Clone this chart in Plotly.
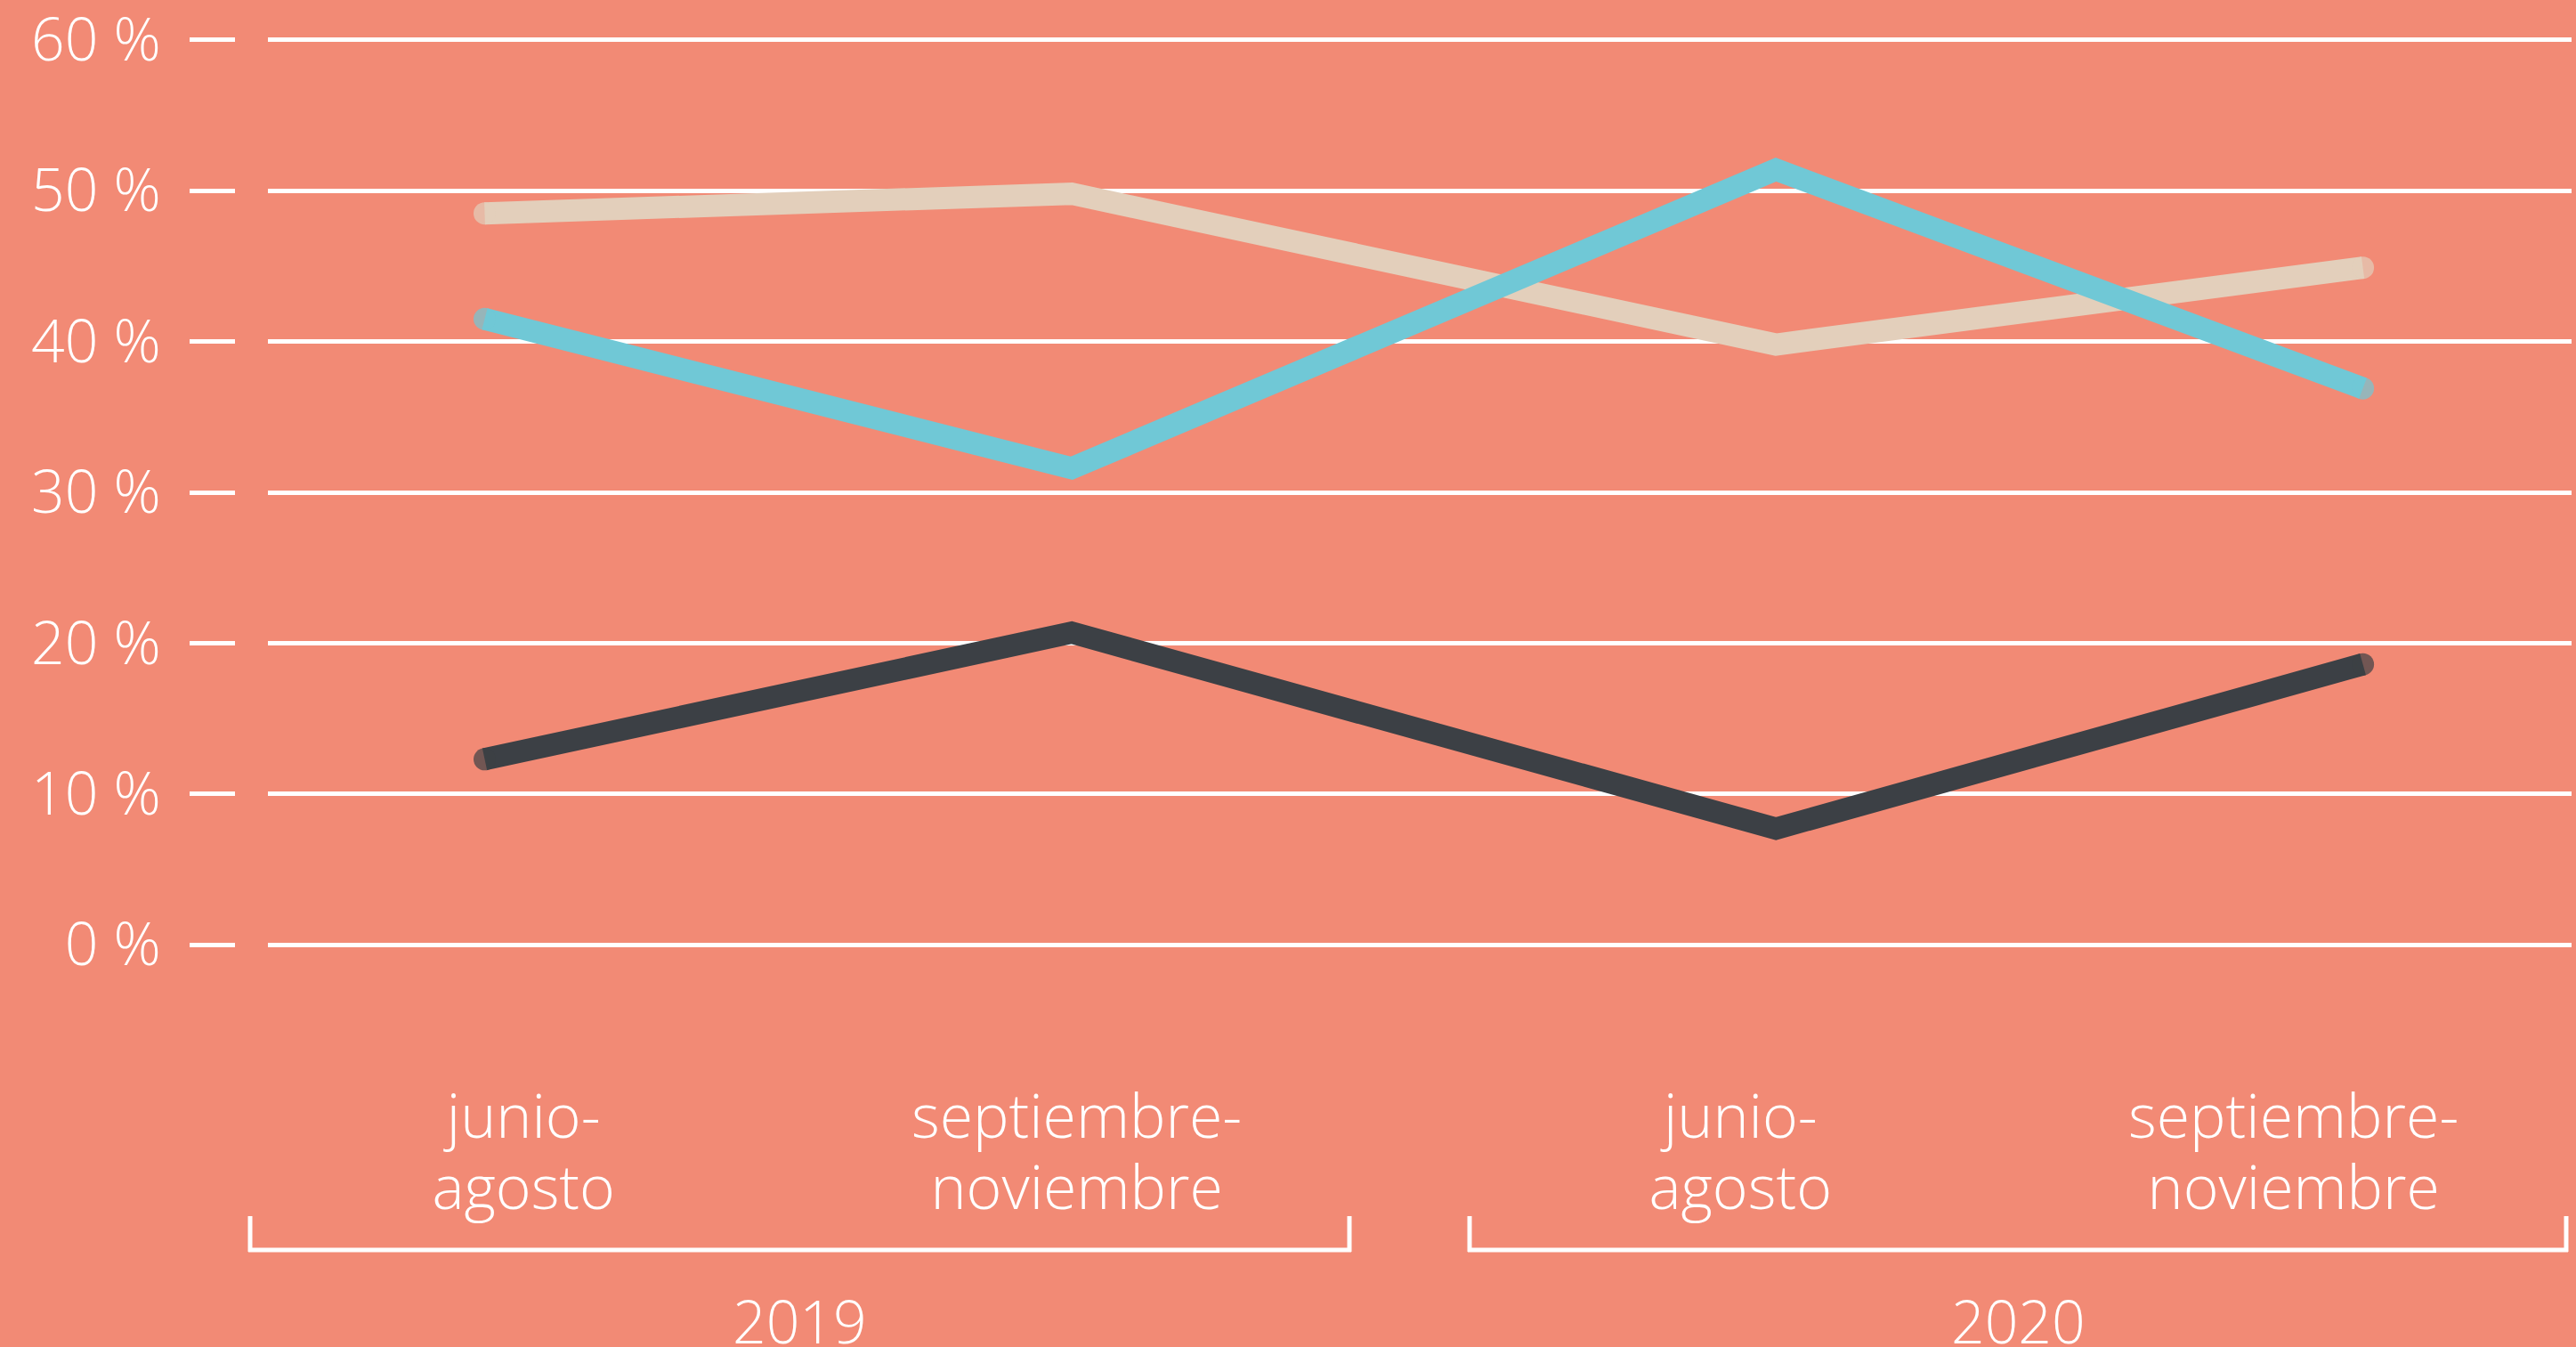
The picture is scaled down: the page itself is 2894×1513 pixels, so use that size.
import plotly.graph_objects as go

# ---- data ----
period_line1 = ["junio-", "septiembre-", "junio-", "septiembre-"]
period_line2 = ["agosto", "noviembre", "agosto", "noviembre"]
period_pos = [0, 1, 2.2, 3.2]          # category slots (gap between years)
years = ["2019", "2020"]

serie_beige = [48.5, 49.8, 39.8, 44.9]
serie_dark = [12.3, 20.7, 7.7, 18.6]
serie_cyan = [41.5, 31.6, 51.4, 36.9]

y_ticks = [0, 10, 20, 30, 40, 50, 60]
y_ticktext = [f"{v} %" for v in y_ticks]

# ---- style ----
W, H = 2894, 1513
BG = "#F28A75"
C_BEIGE = "#E3CFBB"
C_DARK = "#3C4045"
C_CYAN = "#70C8D6"
FONT = "Open Sans"
FS_Y = 66
FS_X = 68
FS_YEAR = 66
LW = 25

ML, MR, MT, MB = 301, 5, 11, 401
PW = W - ML - MR
PH = H - MT - MB


def slot_range(first_px, unit_px):
    return [(ML - first_px) / unit_px, (ML + PW - first_px) / unit_px]


XRANGE_DATA = slot_range(544.5, 659.4)   # lines
XRANGE_LABEL = slot_range(588.2, 621.4)  # period labels


def px_x(px):
    return (px - ML) / PW


def px_y(py):
    return (H - MB - py) / PH


fig = go.Figure()
for vals, col in [(serie_beige, C_BEIGE), (serie_dark, C_DARK), (serie_cyan, C_CYAN)]:
    n = len(vals)
    fig.add_trace(go.Scatter(
        x=period_pos, y=vals, mode="lines+markers",
        line=dict(color=col, width=LW),
        marker=dict(color=col, size=[LW if i in (0, n - 1) else 0 for i in range(n)],
                    line=dict(width=0)),
        hoverinfo="skip", showlegend=False,
    ))
# empty traces so the label-row axes are drawn
for ax in ("x2", "x3"):
    fig.add_trace(go.Scatter(x=[], y=[], xaxis=ax, yaxis="y", showlegend=False, hoverinfo="skip"))

# year labels and brackets
shapes = []
annotations = []
bracket_px = [(279, 1518), (1649, 2885)]
for yr, (x0, x1) in zip(years, bracket_px):
    annotations.append(dict(
        x=px_x((x0 + x1) / 2), xref="paper", y=px_y(1483), yref="paper",
        text=yr, showarrow=False, xanchor="center", yanchor="middle",
        font=dict(family=FONT, size=FS_YEAR, color="white", weight=300),
    ))
    line = dict(color="white", width=5)
    shapes.append(dict(type="line", xref="paper", yref="paper",
                       x0=px_x(x0), x1=px_x(x1), y0=px_y(1404), y1=px_y(1404), line=line))
    shapes.append(dict(type="line", xref="paper", yref="paper",
                       x0=px_x(x0 + 2), x1=px_x(x0 + 2), y0=px_y(1366), y1=px_y(1406), line=line))
    shapes.append(dict(type="line", xref="paper", yref="paper",
                       x0=px_x(x1 - 2), x1=px_x(x1 - 2), y0=px_y(1366), y1=px_y(1406), line=line))

xfont = dict(family=FONT, size=FS_X, color="white", weight=300)
label_axis = dict(
    range=XRANGE_LABEL, overlaying="x", anchor="y", side="bottom",
    tickvals=period_pos, showgrid=False, zeroline=False, showline=False, ticks="",
    tickfont=xfont,
)
fig.update_layout(
    width=W, height=H,
    margin=dict(l=ML, r=MR, t=MT, b=MB, autoexpand=False),
    paper_bgcolor=BG, plot_bgcolor=BG,
    font=dict(family=FONT, size=FS_Y, color="white", weight=300),
    shapes=shapes, annotations=annotations,
    xaxis=dict(
        range=XRANGE_DATA, showticklabels=False,
        showgrid=False, zeroline=False, showline=False, ticks="",
    ),
    xaxis2=dict(label_axis, ticktext=period_line1, ticklabelstandoff=97),
    xaxis3=dict(label_axis, ticktext=period_line2, ticklabelstandoff=177),
    yaxis=dict(
        range=[-3, 62],
        tickvals=y_ticks, ticktext=y_ticktext,
        showgrid=True, gridcolor="white", gridwidth=4.5,
        zeroline=False, showline=False,
        ticks="outside", ticklen=51, tickwidth=5, tickcolor="white",
        anchor="free", position=0, shift=-37,
        ticklabelstandoff=19, ticklabeloverflow="allow",
        tickfont=dict(family=FONT, size=FS_Y, color="white", weight=300),
    ),
)

fig.write_html("out.html", config={"displayModeBar": False},
               post_script="document.body.style.margin='0';document.body.style.background='" + BG + "';")
